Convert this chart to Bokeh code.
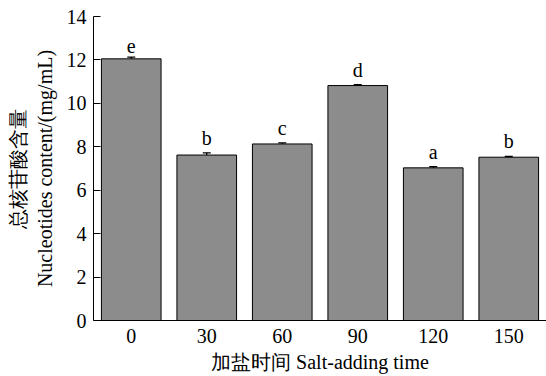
from bokeh.plotting import figure
from bokeh.models import FactorRange, Range1d, FixedTicker, ColumnDataSource, Whisker, TeeHead
from bokeh.embed import file_html
from bokeh.resources import INLINE

categories = ["0", "30", "60", "90", "120", "150"]
values = [12.05, 7.62, 8.13, 10.82, 7.03, 7.52]
errors = [0.08, 0.10, 0.05, 0.04, 0.05, 0.04]
letters = ["e", "b", "c", "d", "a", "b"]
y_ticks = [0, 2, 4, 6, 8, 10, 12, 14]

SERIF = "Liberation Serif"

src = ColumnDataSource(dict(
    cat=categories, val=values,
    upper=[v + e for v, e in zip(values, errors)],
    lower=[v - e for v, e in zip(values, errors)],
    lab=letters,
))

p = figure(x_range=FactorRange(factors=categories, range_padding=0),
           y_range=Range1d(0, 14), width=546, height=376,
           output_backend="svg", toolbar_location=None,
           min_border_left=93, min_border_right=0, min_border_top=16, min_border_bottom=56)
p.outline_line_color = None
p.grid.visible = False
p.background_fill_color = "white"
p.border_fill_color = "white"

p.vbar(x="cat", top="val", width=0.79, source=src, fill_color="#8c8c8c",
       line_color="black", line_width=1)

w = Whisker(base="cat", upper="upper", lower="lower", source=src, line_color="black", line_width=1.3,
            upper_head=TeeHead(size=8, line_color="black", line_width=1.3),
            lower_head=TeeHead(size=8, line_color="black", line_width=1.3))
p.add_layout(w)

p.text(x="cat", y="upper", text="lab", source=src, text_align="center", text_baseline="bottom",
       y_offset=-4, text_font_size="20px", text_font={"value": SERIF}, text_color="black")

p.yaxis.ticker = FixedTicker(ticks=y_ticks)
p.yaxis.major_tick_in = 7
p.yaxis.major_tick_out = 0
p.yaxis.minor_tick_line_color = None
p.yaxis.major_label_text_font = SERIF
p.yaxis.major_label_text_font_size = "20px"
p.yaxis.major_label_standoff = 7
p.yaxis.axis_label = "总核苷酸含量\nNucleotides content/(mg/mL)"
p.yaxis.axis_label_text_font = SERIF
p.yaxis.axis_label_text_font_size = "20px"
p.yaxis.axis_label_text_font_style = "normal"
p.yaxis.axis_label_standoff = 8

p.xaxis.major_tick_in = 0
p.xaxis.major_tick_out = 0
p.xaxis.major_label_text_font = SERIF
p.xaxis.major_label_text_font_size = "20px"
p.xaxis.major_label_standoff = 8
p.xaxis.axis_label = "加盐时间 Salt-adding time"
p.xaxis.axis_label_text_font = SERIF
p.xaxis.axis_label_text_font_size = "20px"
p.xaxis.axis_label_text_font_style = "normal"
p.xaxis.axis_label_standoff = 5

for ax in (p.xaxis, p.yaxis):
    ax.axis_line_color = "black"
    ax.axis_line_width = 1
    ax.major_tick_line_color = "black"
    ax.major_label_text_color = "black"
    ax.axis_label_text_color = "black"

open("out.html", "w").write(file_html(p, INLINE))
